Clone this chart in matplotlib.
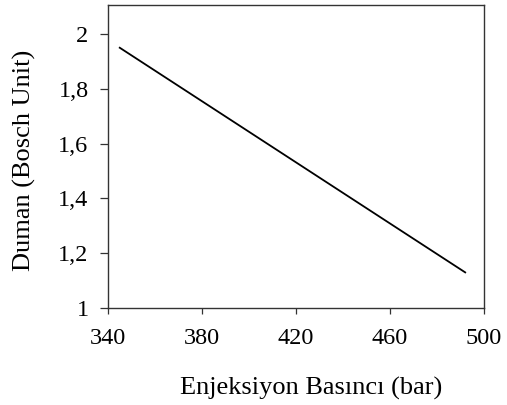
import matplotlib
matplotlib.use("Agg")
import matplotlib.pyplot as plt
from matplotlib.ticker import FuncFormatter

# Injection pressure (bar) vs. smoke (Bosch Unit)
pressure = [345, 492]
smoke = [1.95, 1.13]
x_ticks = [340, 380, 420, 460, 500]
y_ticks = [1.0, 1.2, 1.4, 1.6, 1.8, 2.0]

plt.rcParams['font.family'] = ['Liberation Serif', 'DejaVu Serif']

fig = plt.figure(figsize=(5.07, 4.05), dpi=100)
ax = fig.add_axes([108/507, 1 - 308/405, (484-108)/507, (308-5)/405])

ax.plot(pressure, smoke, color='black', linewidth=1.3)

ax.set_xlim(340, 500)
ax.set_ylim(1.0, 2.106)
ax.set_xticks(x_ticks)
ax.set_yticks(y_ticks)

def comma_fmt(v, pos):
    s = f"{v:.1f}".rstrip('0').rstrip('.')
    return s.replace('.', ',')

ax.yaxis.set_major_formatter(FuncFormatter(comma_fmt))
ax.xaxis.set_major_formatter(FuncFormatter(lambda v, p: f"{int(v)}"))

ax.tick_params(axis='both', labelsize=17.5, direction='out', width=0.9,
               color='#333333')
ax.tick_params(axis='x', length=4.5, pad=10)
ax.tick_params(axis='y', length=6, pad=8)
for sp in ax.spines.values():
    sp.set_linewidth(1.0)
    sp.set_color('#333333')

ax.set_xlabel('Enjeksiyon Basıncı (bar)', fontsize=19)
ax.xaxis.set_label_coords((311 - 108) / 376, -(388 - 308) / 303, transform=ax.transAxes)
ax.xaxis.label.set_va('center')
ax.set_ylabel('Duman (Bosch Unit)', fontsize=19)
ax.yaxis.set_label_coords((24 - 108) / 376, (308 - 160) / 303, transform=ax.transAxes)
ax.yaxis.label.set_va('center')

fig.savefig('out.png', dpi=100)
